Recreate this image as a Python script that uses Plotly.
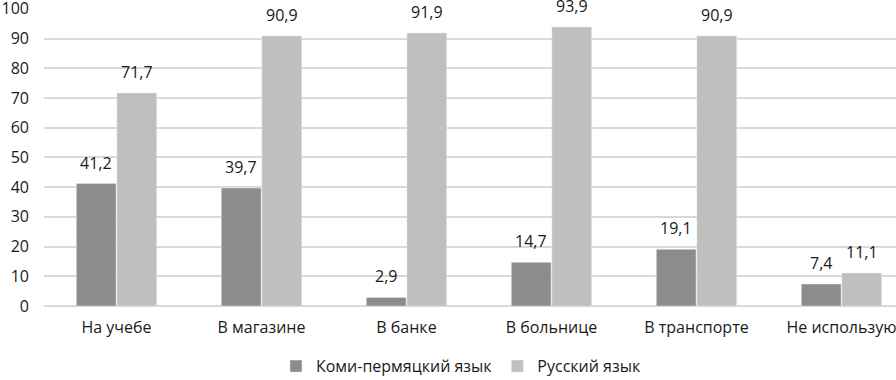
import plotly.graph_objects as go

categories = ["На учебе", "В магазине", "В банке", "В больнице", "В транспорте", "Не использую"]
komi = [41.2, 39.7, 2.9, 14.7, 19.1, 7.4]
russian = [71.7, 90.9, 91.9, 93.9, 90.9, 11.1]
series_names = ["Коми-пермяцкий язык", "Русский язык"]
colors = ["#8c8c8c", "#bfbfbf"]

xs = list(range(len(categories)))
fnt = dict(family="Open Sans, Liberation Sans, Arial", size=16, color="#1a1a1a")

fig = go.Figure()
fig.add_bar(x=xs, y=komi, name=series_names[0], marker_color=colors[0])
fig.add_bar(x=xs, y=russian, name=series_names[1], marker_color=colors[1])

ann = []
fmt = lambda v: f"{v:.1f}".replace(".", ",")
off = 0.14
for i, (a, b) in enumerate(zip(komi, russian)):
    ann.append(dict(x=i - off, y=a, text=fmt(a), showarrow=False, yanchor="bottom", yshift=8, font=fnt))
    ann.append(dict(x=i + off, y=b, text=fmt(b), showarrow=False, yanchor="bottom", yshift=8, font=fnt))

fig.update_layout(
    width=896, height=380,
    margin=dict(l=44, r=0, t=8, b=74, autoexpand=False),
    paper_bgcolor="white", plot_bgcolor="white",
    barmode="group", bargap=0.44, bargroupgap=0.02,
    font=fnt,
    annotations=ann,
    showlegend=True,
    legend=dict(orientation="h", x=0.49, xanchor="center", y=-0.145, yanchor="top",
                font=fnt, itemwidth=30, traceorder="normal"),
    xaxis=dict(tickmode="array", tickvals=xs, ticktext=categories, range=[-0.5, 5.376],
               showgrid=False, showline=False, zeroline=False, ticks="", tickfont=fnt,
               ticklabelstandoff=10, ticklabeloverflow="allow"),
    yaxis=dict(range=[0, 100.3], dtick=10, showgrid=True, gridcolor="#d9d9d9", gridwidth=1.5,
               zeroline=True, zerolinecolor="#d9d9d9", zerolinewidth=1.5,
               showline=False, ticks="", tickfont=fnt, ticklabelstandoff=14,
               ticklabeloverflow="allow"),
)
fig.write_html("out.html", config={"displayModeBar": False},
               post_script="document.body.style.margin='0';document.body.style.overflow='hidden';")
